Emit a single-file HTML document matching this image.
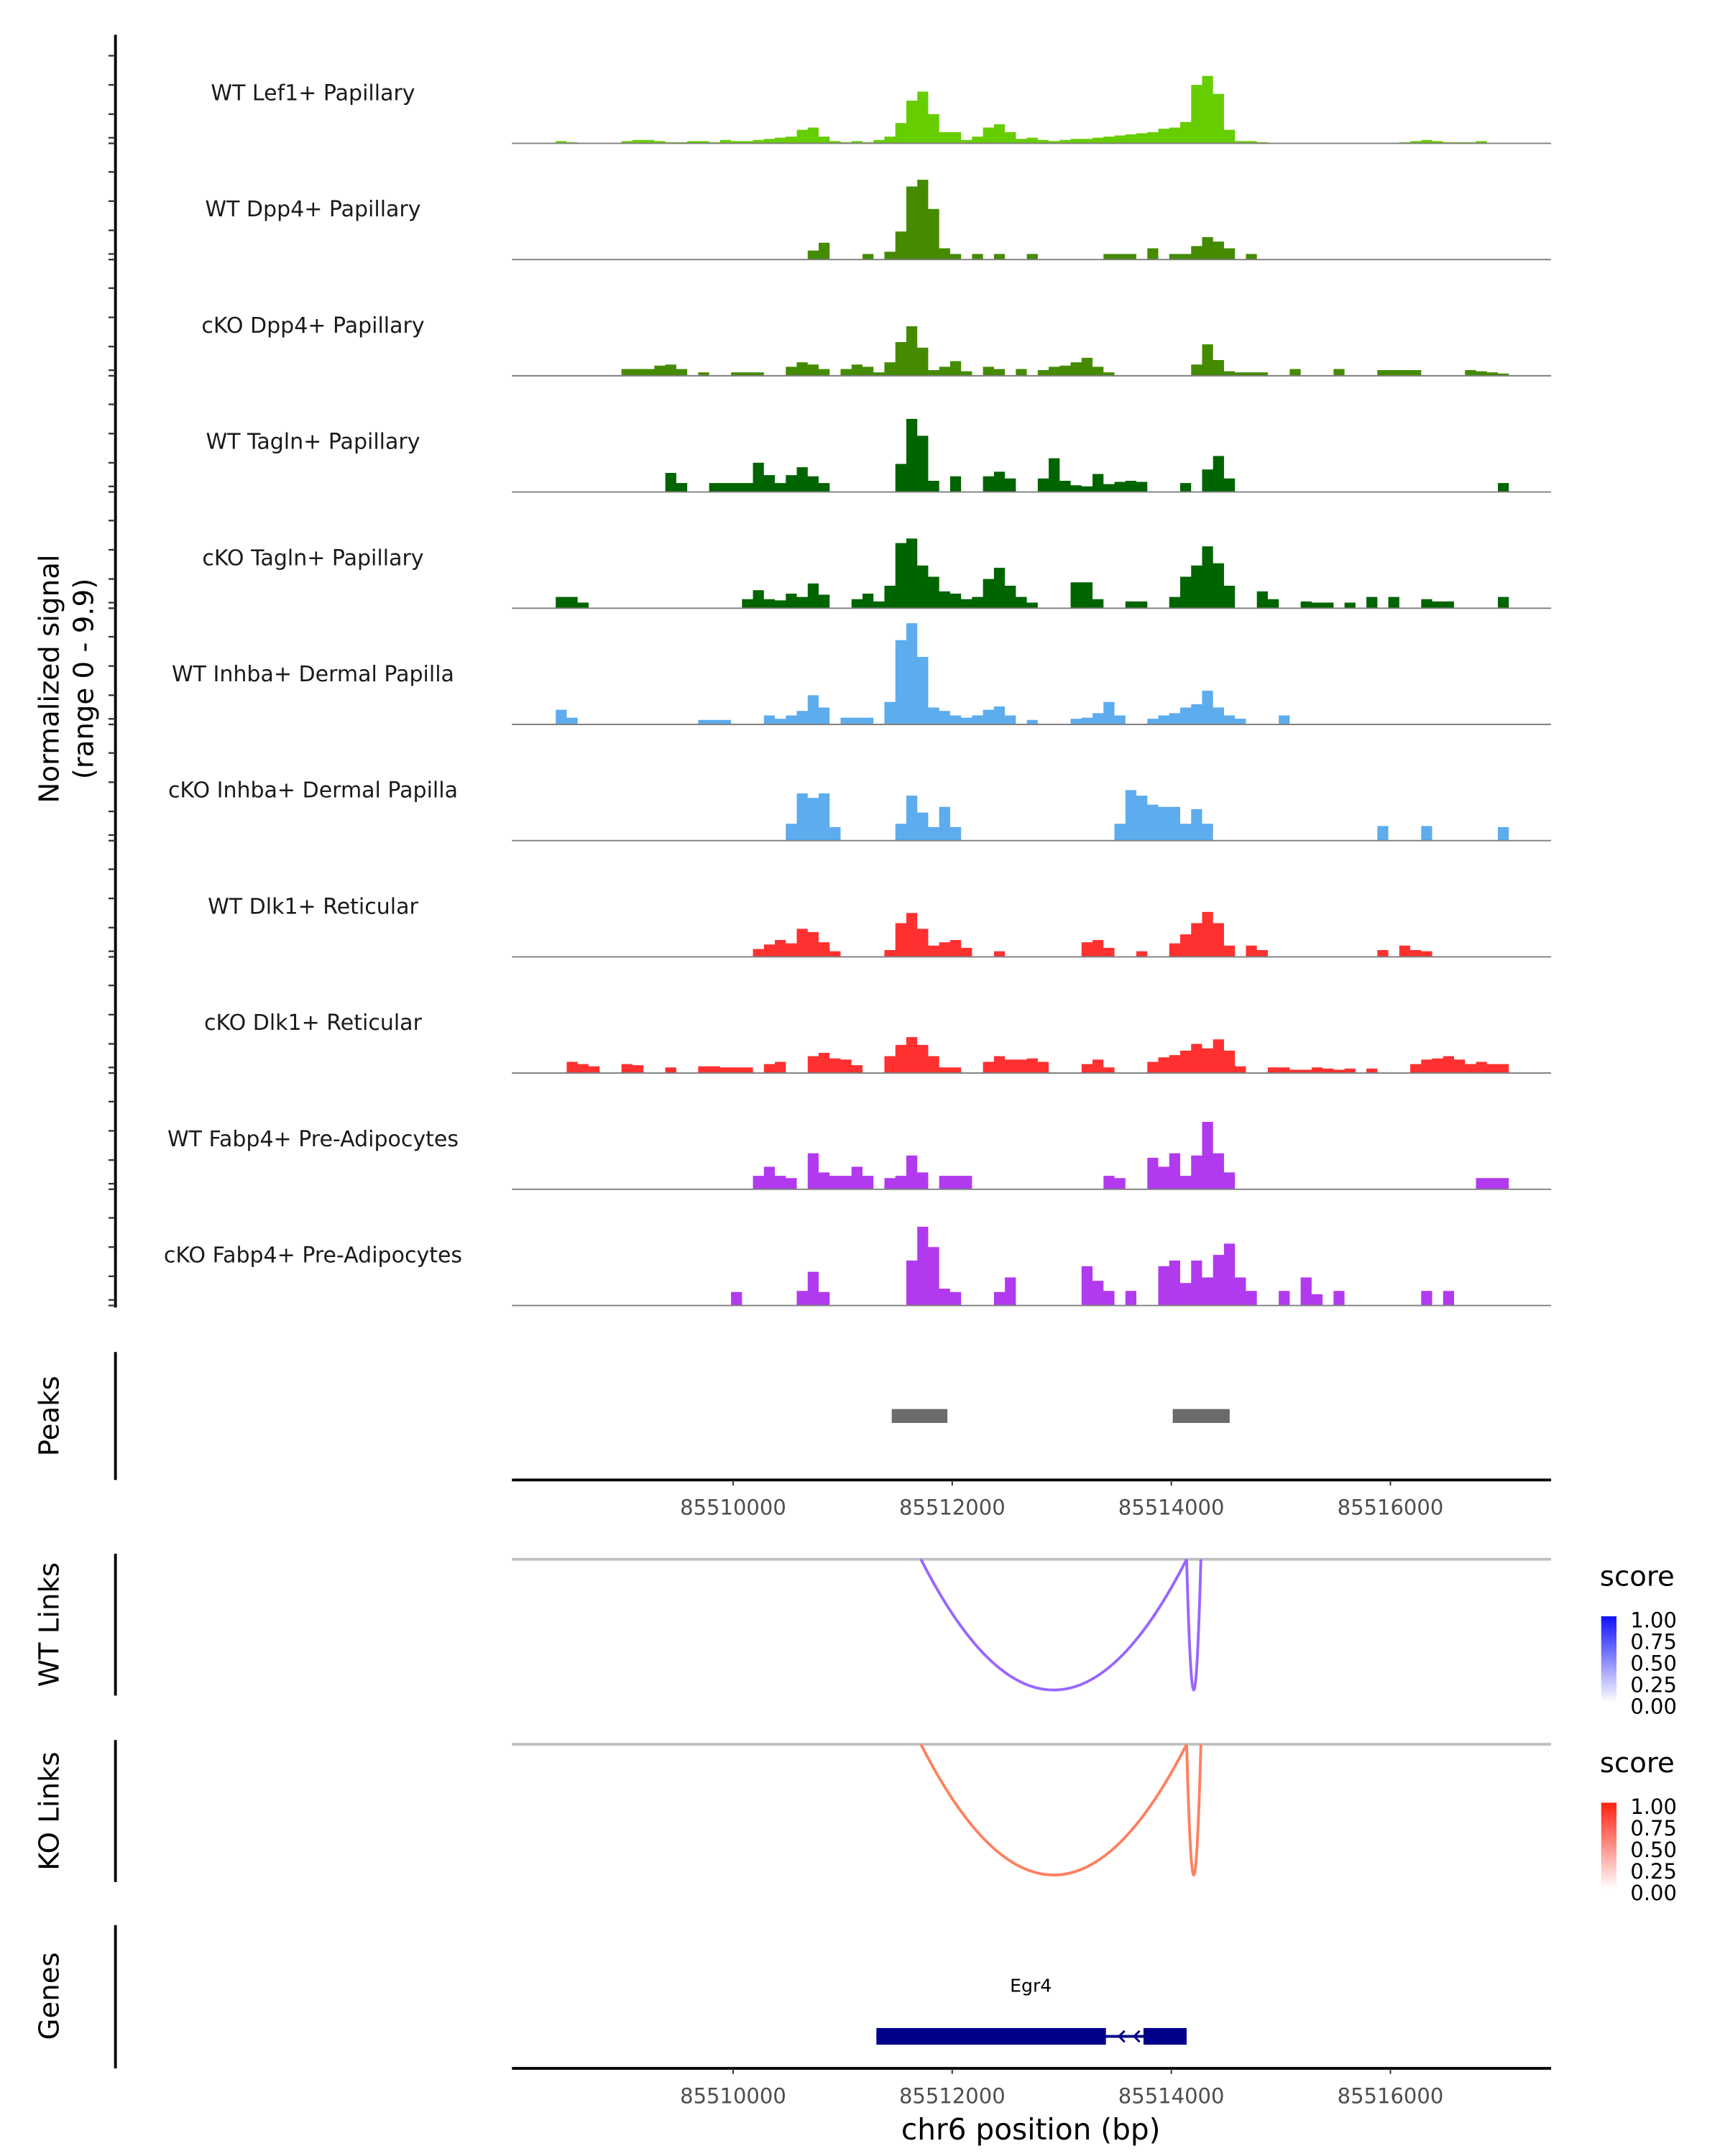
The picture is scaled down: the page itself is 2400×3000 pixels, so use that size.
<!DOCTYPE html>
<html><head><meta charset="utf-8"><style>
html,body{margin:0;padding:0;background:#fff;}
svg{display:block;font-family:"DejaVu Sans","Liberation Sans",sans-serif;}
</style></head><body>
<svg id="chart" width="2400" height="3000" viewBox="0 0 1240 1550" xmlns="http://www.w3.org/2000/svg">
<g id="tracks"></g>
<g id="peaks"></g>
<g id="links"></g>
<g id="genes"></g>
<g id="axes"></g>
</svg>
<script>
// ---- data ----
const regionStart = 85507981, regionEnd = 85517467, binSize = 100, yMax = 9.9;
const trackNames = ["WT Lef1+ Papillary","WT Dpp4+ Papillary","cKO Dpp4+ Papillary","WT Tagln+ Papillary","cKO Tagln+ Papillary","WT Inhba+ Dermal Papilla","cKO Inhba+ Dermal Papilla","WT Dlk1+ Reticular","cKO Dlk1+ Reticular","WT Fabp4+ Pre-Adipocytes","cKO Fabp4+ Pre-Adipocytes"];
const trackColors = ["#66cd00","#458b00","#458b00","#006400","#006400","#5cacee","#5cacee","#ff3030","#ff3030","#b23aee","#b23aee"];
const sigLef1WT = [0,0,0,0,0.2,0.1,0,0,0,0, 0.2,0.3,0.3,0.2,0.1,0.1,0.2,0.2,0.1,0.3, 0.2,0.2,0.3,0.4,0.5,0.6,1.2,1.4,0.6,0.2, 0.1,0.2,0.1,0.3,0.6,1.8,3.8,4.6,2.6,1.0, 1.0,0.3,0.6,1.4,1.7,1.0,0.4,0.5,0.3,0.2, 0.3,0.4,0.4,0.5,0.6,0.7,0.8,0.9,1.0,1.3, 1.4,1.9,5.2,6.0,4.4,1.2,0.2,0.2,0.1,0, 0,0,0,0,0,0,0,0,0,0, 0,0.1,0.2,0.3,0.2,0.1,0.1,0.1,0.2,0, 0,0];
const sigDpp4WT = [0,0,0,0,0,0,0,0,0,0, 0,0,0,0,0,0,0,0,0,0, 0,0,0,0,0,0,0,0.8,1.5,0, 0,0,0.5,0,0.7,2.5,6.5,7.1,4.5,1.0, 0.5,0,0.5,0,0.5,0,0,0.5,0,0, 0,0,0,0,0.5,0.5,0.5,0,1.0,0, 0.5,0.5,1.2,2.0,1.6,1.0,0,0.5,0,0, 0,0,0,0,0,0,0,0,0,0, 0,0,0,0,0,0,0,0,0,0, 0,0];
const sigDpp4KO = [0,0,0,0,0,0,0,0,0,0, 0.6,0.6,0.6,0.9,1.0,0.6,0,0.3,0,0, 0.3,0.3,0.3,0,0,0.8,1.2,1.0,0.6,0, 0.6,1.0,0.8,0.3,1.2,3.0,4.4,2.5,0.5,0.8, 1.3,0.4,0,0.8,0.6,0,0.6,0,0.5,0.8, 0.9,1.2,1.6,0.8,0.3,0,0,0,0,0, 0,0,1.0,2.8,1.4,0.4,0.3,0.3,0.3,0, 0,0.6,0,0,0,0.6,0,0,0,0.5, 0.5,0.5,0.5,0,0,0,0,0.5,0.4,0.3, 0.2,0];
const sigTaglnWT = [0,0,0,0,0,0,0,0,0,0, 0,0,0,0,1.7,0.8,0,0,0.8,0.8, 0.8,0.8,2.6,1.5,0.8,1.5,2.2,1.4,0.8,0, 0,0,0,0,0,2.5,6.5,5.0,1.0,0, 1.4,0,0,1.4,1.8,1.2,0,0,1.2,3.0, 1.0,0.6,0.5,1.6,0.7,0.9,1.0,0.9,0,0, 0,0.8,0,2.0,3.2,1.2,0,0,0,0, 0,0,0,0,0,0,0,0,0,0, 0,0,0,0,0,0,0,0,0,0, 0.8,0];
const sigTaglnKO = [0,0,0,0,1.0,1.0,0.5,0,0,0, 0,0,0,0,0,0,0,0,0,0, 0,0.8,1.6,0.8,0.7,1.3,1.0,2.2,1.2,0, 0,0.8,1.3,0.6,2.0,5.8,6.2,3.8,2.8,1.5, 1.3,0.8,1.0,2.6,3.6,2.0,1.0,0.5,0,0, 0,2.3,2.3,0.8,0,0,0.6,0.6,0,0, 1.0,2.8,3.8,5.5,4.0,2.0,0,0,1.5,0.8, 0,0,0.6,0.5,0.5,0,0.5,0,1.0,0, 1.0,0,0,0.8,0.6,0.6,0,0,0,0, 1.0,0];
const sigInhbaWT = [0,0,0,0,1.3,0.6,0,0,0,0, 0,0,0,0,0,0,0,0.4,0.4,0.4, 0,0,0,0.8,0.5,0.8,1.2,2.6,1.5,0, 0.6,0.6,0.6,0,2.0,7.5,9.0,6.0,1.5,1.2, 0.8,0.6,0.8,1.3,1.6,0.8,0,0.4,0,0, 0,0.5,0.6,1.0,2.0,0.8,0,0,0.5,0.8, 1.0,1.5,1.8,3.0,1.5,0.8,0.5,0,0,0, 0.8,0,0,0,0,0,0,0,0,0, 0,0,0,0,0,0,0,0,0,0, 0,0];
const sigInhbaKO = [0,0,0,0,0,0,0,0,0,0, 0,0,0,0,0,0,0,0,0,0, 0,0,0,0,0,1.5,4.2,3.8,4.2,1.2, 0,0,0,0,0,1.5,4.0,2.5,1.2,3.0, 1.2,0,0,0,0,0,0,0,0,0, 0,0,0,0,0,1.5,4.5,4.0,3.2,3.0, 3.0,1.5,2.8,1.5,0,0,0,0,0,0, 0,0,0,0,0,0,0,0,0,1.3, 0,0,0,1.3,0,0,0,0,0,0, 1.2,0];
const sigDlk1WT = [0,0,0,0,0,0,0,0,0,0, 0,0,0,0,0,0,0,0,0,0, 0,0,0.7,1.1,1.5,1.2,2.5,2.2,1.3,0.5, 0,0,0,0,0.6,3.0,3.9,2.5,1.0,1.3, 1.5,0.8,0,0,0.5,0,0,0,0,0, 0,0,1.3,1.5,0.8,0,0,0.5,0,0, 1.2,2.0,3.0,4.0,3.0,1.0,0,1.0,0.6,0, 0,0,0,0,0,0,0,0,0,0.6, 0,1.0,0.6,0.5,0,0,0,0,0,0, 0,0];
const sigDlk1KO = [0,0,0,0,0,1.0,0.8,0.6,0,0, 0.8,0.7,0,0,0.5,0,0,0.6,0.6,0.5, 0.5,0.5,0,0.8,1.0,0,0,1.5,1.8,1.3, 1.2,0.7,0,0,1.5,2.5,3.2,2.5,1.5,0.5, 0.5,0,0,1.0,1.5,1.2,1.2,1.3,1.0,0, 0,0,0.8,1.2,0.5,0,0,0,1.0,1.4, 1.6,2.0,2.6,2.2,3.0,2.0,0.6,0,0,0.5, 0.5,0.3,0.3,0.5,0.4,0.3,0.4,0,0.4,0, 0,0,0.8,1.2,1.3,1.5,1.2,0.8,1.0,0.8, 0.8,0];
const sigFabp4WT = [0,0,0,0,0,0,0,0,0,0, 0,0,0,0,0,0,0,0,0,0, 0,0,1.2,2.0,1.2,1.0,0,3.2,1.5,1.2, 1.2,2.0,1.2,0,1.0,1.2,3.0,1.5,0,1.2, 1.2,1.2,0,0,0,0,0,0,0,0, 0,0,0,0,1.2,1.0,0,0,2.8,2.0, 3.2,1.2,3.0,6.0,3.2,1.5,0,0,0,0, 0,0,0,0,0,0,0,0,0,0, 0,0,0,0,0,0,0,0,1.0,1.0, 1.0,0];
const sigFabp4KO = [0,0,0,0,0,0,0,0,0,0, 0,0,0,0,0,0,0,0,0,0, 1.2,0,0,0,0,0,1.3,3.0,1.2,0, 0,0,0,0,0,0,4.0,7.0,5.2,1.5, 1.2,0,0,0,1.2,2.5,0,0,0,0, 0,0,3.5,2.2,1.3,0,1.3,0,0,3.5, 4.0,2.0,4.0,2.5,4.5,5.5,2.5,1.3,0,0, 1.3,0,2.5,1.0,0,1.3,0,0,0,0, 0,0,0,1.3,0,1.3,0,0,0,0, 0,0];
const signals = [sigLef1WT,sigDpp4WT,sigDpp4KO,sigTaglnWT,sigTaglnKO,sigInhbaWT,sigInhbaKO,sigDlk1WT,sigDlk1KO,sigFabp4WT,sigFabp4KO];
const peakStarts = [85511448, 85514013];
const peakEnds = [85511956, 85514533];
const linkStarts = [85511714, 85514140];
const linkEnds = [85514140, 85514270];
const wtLinkScores = [0.6, 0.6];
const koLinkScores = [0.6, 0.6];
const xTicks = [85510000, 85512000, 85514000, 85516000];
const geneName = "Egr4";
const geneStart = 85511308, geneEnd = 85514140;
const exonStarts = [85511308, 85513746];
const exonEnds = [85513403, 85514140];
const legendTicks = ["1.00","0.75","0.50","0.25","0.00"];

// ---- layout ----
const NS = "http://www.w3.org/2000/svg";
const X0 = 368, X1 = 1115;
const xs = bp => X0 + (bp - regionStart) / (regionEnd - regionStart) * (X1 - X0);
const trackTop = 25, trackStep = 83.55, trackH = 80;
function mk(tag, attrs, parent){ const e = document.createElementNS(NS, tag); for (const k in attrs) e.setAttribute(k, attrs[k]); parent.appendChild(e); return e; }
function txt(s, attrs, parent){ const e = mk("text", attrs, parent); e.textContent = s; return e; }

const gT = document.getElementById("tracks");
signals.forEach((vals, t) => {
  const base = trackTop + trackStep * (t + 1) - 5.5;
  const ys = v => base - v / yMax * trackH;
  const g = mk("g", {}, gT);
  
  
  let d = "M" + X0 + "," + base;
  vals.forEach((v, i) => {
    const xa = xs(regionStart + i * binSize), xb = xs(regionStart + (i + 1) * binSize);
    d += " L" + xa.toFixed(2) + "," + ys(v).toFixed(2) + " L" + xb.toFixed(2) + "," + ys(v).toFixed(2);
  });
  d += " L" + xs(regionStart + vals.length * binSize).toFixed(2) + "," + base + " Z";
  const p = mk("path", {d: d, fill: trackColors[t], stroke: "none"}, g);
  
  
  const bl = mk("line", {x1: X0, x2: X1, y1: base, y2: base, stroke: "#7f7f7f", "stroke-width": 1}, g);
  
  
  const lb = txt(trackNames[t], {x: 225, y: base - 31, "text-anchor": "middle", "font-size": 15.5, fill: "#1a1a1a"}, g);
  
  
});

const gA = document.getElementById("axes");
const la = mk("line", {x1: 83, x2: 83, y1: 25, y2: 940, stroke: "#000", "stroke-width": 2}, gA);


for (let t = 0; t < 11; t++) {
  const base = trackTop + trackStep * (t + 1) - 5.5;
  [0, 4, 21, 42, 63].forEach(o => {
    const tk = mk("line", {x1: 78, x2: 83, y1: base - o, y2: base - o, stroke: "#333", "stroke-width": 1.2}, gA);
    
    
  });
}
const yt = txt("Normalized signal", {x: 0, y: 0, "text-anchor": "middle", "font-size": 20, fill: "#000", transform: "translate(42,488) rotate(-90)"}, gA);


const yt2 = txt("(range 0 - 9.9)", {x: 0, y: 0, "text-anchor": "middle", "font-size": 20, fill: "#000", transform: "translate(67,488) rotate(-90)"}, gA);



function sideLabel(s, yc, y1, y2, name){
  const l = mk("line", {x1: 83, x2: 83, y1: y1, y2: y2, stroke: "#000", "stroke-width": 2}, gA);
  
  
  const t = txt(s, {x: 0, y: 0, "text-anchor": "middle", "font-size": 20, fill: "#000", transform: "translate(42," + yc + ") rotate(-90)"}, gA);
  
  
}
sideLabel("Peaks", 1018, 972, 1064, "peaks");
sideLabel("WT Links", 1168, 1117, 1219, "wt-links");
sideLabel("KO Links", 1302, 1251, 1353, "ko-links");
sideLabel("Genes", 1435, 1384, 1487, "genes");

function xAxis(y, name){
  const l = mk("line", {x1: X0, x2: X1, y1: y, y2: y, stroke: "#000", "stroke-width": 2}, gA);
  
  
  xTicks.forEach(v => {
    const tk = mk("line", {x1: xs(v), x2: xs(v), y1: y, y2: y + 4, stroke: "#333", "stroke-width": 1}, gA);
    
    
    const tl = txt(String(v), {x: xs(v), y: y + 25, "text-anchor": "middle", "font-size": 15, fill: "#4d4d4d"}, gA);
    
    
  });
}
xAxis(1064, "peaks-x-axis");
xAxis(1487, "genes-x-axis");
const xt = txt("chr6 position (bp)", {x: 741, y: 1538, "text-anchor": "middle", "font-size": 21, fill: "#000"}, gA);



const gP = document.getElementById("peaks");
peakStarts.forEach((s, i) => {
  const r = mk("rect", {x: xs(s), y: 1013, width: xs(peakEnds[i]) - xs(s), height: 10, fill: "#6b6b6b"}, gP);
  
  
});

const gL = document.getElementById("links");
function linkPanel(top, scores, color, name, legendY, gradStops){
  const bl = mk("line", {x1: X0, x2: X1, y1: top, y2: top, stroke: "#bfbfbf", "stroke-width": 2}, gL);
  
  
  const depth = 94;
  linkStarts.forEach((s, i) => {
    const xa = xs(s), xb = xs(linkEnds[i]);
    const cy = top + depth * 2;
    const c = mk("path", {d: "M" + xa + "," + top + " Q" + ((xa + xb) / 2) + "," + cy + " " + xb + "," + top, fill: "none", stroke: color, "stroke-width": 2, "stroke-opacity": 0.4 + scores[i]}, gL);
    
    
  });
  const lt = txt("score", {x: 1150, y: legendY, "font-size": 20, fill: "#000"}, gL);
  
  
  const gid = name + "-grad";
  const defs = mk("defs", {}, gL);
  const lg = mk("linearGradient", {id: gid, x1: 0, y1: 1, x2: 0, y2: 0}, defs);
  mk("stop", {offset: 0, "stop-color": gradStops[0]}, lg);
  mk("stop", {offset: 1, "stop-color": gradStops[1]}, lg);
  const cb = mk("rect", {x: 1151, y: legendY + 22, width: 11, height: 62, fill: "url(#" + gid + ")"}, gL);
  
  
  legendTicks.forEach((s, j) => {
    const yy = legendY + 25 + j * 15.5;
    const tk = txt(s, {x: 1172, y: yy + 5, "font-size": 15, fill: "#000"}, gL);
    
    
  });
}
linkPanel(1121, wtLinkScores, "#9966ff", "wt-links", 1140, ["#ffffff", "#1010ff"]);
linkPanel(1254, koLinkScores, "#ff8060", "ko-links", 1274, ["#ffffff", "#ff2010"]);

const gG = document.getElementById("genes");
const gl = txt(geneName, {x: 741, y: 1432, "text-anchor": "middle", "font-size": 13, fill: "#000"}, gG);


const intr = mk("line", {x1: xs(geneStart), x2: xs(geneEnd), y1: 1464, y2: 1464, stroke: "#00008b", "stroke-width": 2}, gG);


exonStarts.forEach((s, i) => {
  const r = mk("rect", {x: xs(s), y: 1458, width: xs(exonEnds[i]) - xs(s), height: 12, fill: "#00008b"}, gG);
  
  
});
[0.35, 0.75].forEach(f => {
  const xa = xs(exonEnds[0]) + (xs(exonStarts[1]) - xs(exonEnds[0])) * f;
  const a = mk("path", {d: "M" + (xa + 4) + ",1460 L" + xa + ",1464 L" + (xa + 4) + ",1468", fill: "none", stroke: "#00008b", "stroke-width": 1.5}, gG);
  
  
});
</script>
</body></html>
